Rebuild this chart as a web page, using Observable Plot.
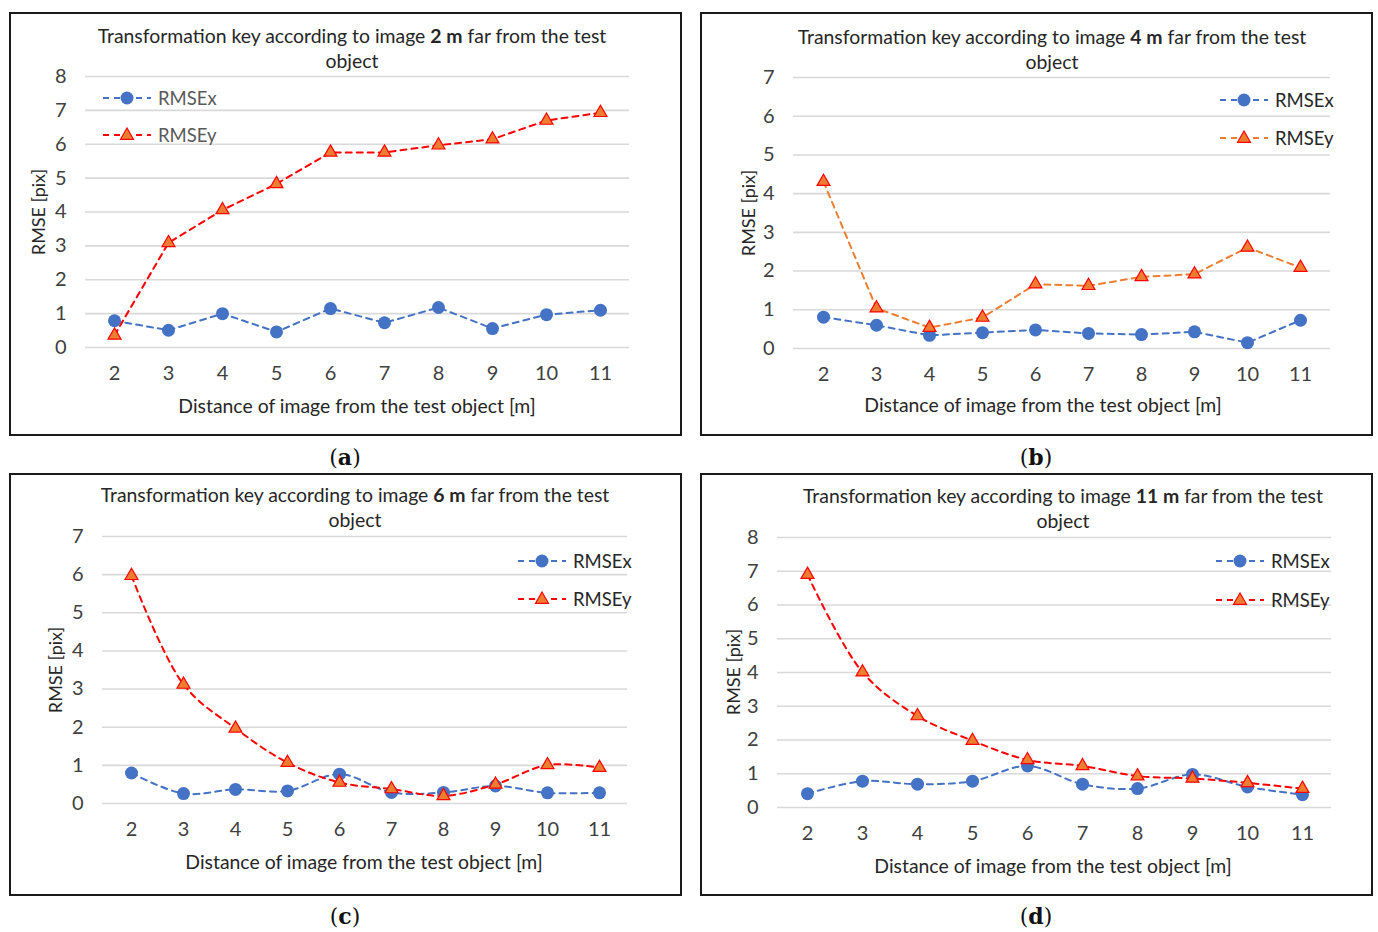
<!DOCTYPE html>
<html>
<head>
<meta charset="utf-8">
<script src="https://cdn.jsdelivr.net/npm/d3@7"></script>
<script src="https://cdn.jsdelivr.net/npm/@observablehq/plot@0.6"></script>
<style>
  html, body { margin: 0; padding: 0; background: #fff; }
  #root { position: relative; width: 1378px; height: 932px; overflow: hidden; font-family: Lato, "Open Sans", sans-serif; color: #262626; }
  .box { position: absolute; border: 2px solid #1a1a1a; box-sizing: border-box; }
  .abs { position: absolute; white-space: nowrap; }
  .title { font-size: 19.4px; line-height: 25px; text-align: center; transform: translateX(-50%); color: #262626; }
  .xtitle { font-size: 19.4px; transform: translate(-50%, -50%); color: #262626; }
  .ytitle { font-size: 18px; transform: translate(-50%, -50%) rotate(-90deg); color: #262626; }
  .cap { font-family: "DejaVu Serif", "Liberation Serif", serif; font-size: 22px; transform: translate(-50%, -50%); color: #111; }
  .leg { font-size: 18.5px; display: flex; align-items: center; transform: translateY(-50%); }
  .leg svg { margin-right: 7px; }
  svg.plot { position: absolute; }
</style>
</head>
<body>
<div id="root"></div>
<script>
// ---- data ----
const distances = [2, 3, 4, 5, 6, 7, 8, 9, 10, 11];
const rmseX_2m  = [0.79, 0.51, 1.00, 0.46, 1.15, 0.73, 1.18, 0.56, 0.97, 1.10];
const rmseY_2m  = [0.36, 3.09, 4.06, 4.83, 5.76, 5.76, 5.97, 6.15, 6.70, 6.93];
const rmseX_4m  = [0.81, 0.60, 0.34, 0.41, 0.48, 0.39, 0.36, 0.43, 0.15, 0.73];
const rmseY_4m  = [4.31, 1.04, 0.54, 0.80, 1.66, 1.62, 1.85, 1.92, 2.61, 2.09];
const rmseX_6m  = [0.80, 0.26, 0.37, 0.33, 0.77, 0.29, 0.29, 0.46, 0.28, 0.28];
const rmseY_6m  = [5.97, 3.12, 1.97, 1.07, 0.55, 0.38, 0.20, 0.50, 1.01, 0.94];
const rmseX_11m = [0.41, 0.78, 0.69, 0.78, 1.23, 0.69, 0.56, 0.98, 0.61, 0.38];
const rmseY_11m = [6.90, 4.01, 2.71, 1.98, 1.41, 1.23, 0.93, 0.86, 0.73, 0.56];
const yTicks8 = [0, 1, 2, 3, 4, 5, 6, 7, 8];
const yTicks7 = [0, 1, 2, 3, 4, 5, 6, 7];
const seriesNames = ["RMSEx", "RMSEy"];
const xTitle = "Distance of image from the test object [m]";
const yTitle = "RMSE [pix]";

// ---- styles ----
const blue = "#4472C4";
const red = "#FF0000";
const orange = "#ED7D31";

// ---- panel layout ----
const panels = [
  { key: "a", dist: "2 m", xs: rmseX_2m, ys: rmseY_2m, ticks: yTicks8, yLine: red, curve: "linear",
    box: [9, 12, 673, 424], frame: [85, 76, 629, 347], titleX: 352, titleY: 23,
    xt: [357, 405], yt: [38, 212], cap: [345, 457], leg: [103, 98, 135], legColor: "#595959" },
  { key: "b", dist: "4 m", xs: rmseX_4m, ys: rmseY_4m, ticks: yTicks7, yLine: orange, curve: "linear",
    box: [700, 12, 673, 424], frame: [793, 77, 1330, 348], titleX: 1052, titleY: 24,
    xt: [1043, 404], yt: [748, 213], cap: [1036, 457], leg: [1220, 100, 138], legColor: "#262626" },
  { key: "c", dist: "6 m", xs: rmseX_6m, ys: rmseY_6m, ticks: yTicks7, yLine: red, curve: "catmull-rom",
    box: [9, 473, 673, 423], frame: [102, 536, 627, 803], titleX: 355, titleY: 482,
    xt: [364, 861], yt: [55, 670], cap: [345, 916], leg: [518, 561, 599], legColor: "#262626" },
  { key: "d", dist: "11 m", xs: rmseX_11m, ys: rmseY_11m, ticks: yTicks8, yLine: red, curve: "catmull-rom",
    box: [700, 473, 673, 423], frame: [777, 537, 1331, 807], titleX: 1063, titleY: 483,
    xt: [1053, 865], yt: [733, 672], cap: [1036, 916], leg: [1216, 561, 600], legColor: "#262626" }
];

const root = document.getElementById("root");

function addDiv(cls, x, y, html) {
  const d = document.createElement("div");
  d.className = "abs " + cls;
  d.style.left = x + "px";
  d.style.top = y + "px";
  d.innerHTML = html;
  root.appendChild(d);
  return d;
}

function legendSymbol(kind, lineColor) {
  const w = 48, h = 16;
  let marker;
  if (kind === "circle") {
    marker = `<circle cx="${w/2}" cy="${h/2}" r="6.5" fill="${blue}"/>`;
  } else {
    marker = `<path d="M${w/2},${h/2-7} L${w/2+6.5},${h/2+4.3} L${w/2-6.5},${h/2+4.3} Z" fill="${orange}" stroke="${red}" stroke-width="1.2"/>`;
  }
  return `<svg width="${w}" height="${h}"><line x1="0" y1="${h/2}" x2="${w}" y2="${h/2}" stroke="${lineColor}" stroke-width="2" stroke-dasharray="6,5"/>${marker}</svg>`;
}

for (const p of panels) {
  const [bx, by, bw, bh] = p.box;
  const [fl, ft, fr, fb] = p.frame;
  const data = [];
  distances.forEach((d, i) => {
    data.push({ distance: String(d), value: p.xs[i], series: seriesNames[0] });
    data.push({ distance: String(d), value: p.ys[i], series: seriesNames[1] });
  });
  const dx = data.filter(d => d.series === "RMSEx");
  const dy = data.filter(d => d.series === "RMSEy");

  const chart = Plot.plot({
    width: bw,
    height: bh,
    marginLeft: fl - bx,
    marginRight: bx + bw - fr,
    marginTop: ft - by,
    marginBottom: by + bh - fb,
    style: { fontFamily: "Lato, 'Open Sans', sans-serif", fontSize: "20px", color: "#404040", background: "transparent" },
    x: { type: "point", domain: distances.map(String), padding: 0.5 },
    y: { domain: [0, p.ticks[p.ticks.length - 1]] },
    marks: [
      Plot.gridY(p.ticks, { stroke: "#d9d9d9", strokeOpacity: 1, strokeWidth: 1.6 }),
      Plot.axisY(p.ticks, { tickSize: 0, tickPadding: 19, label: null, fill: "#404040" }),
      Plot.axisX({ tickSize: 0, tickPadding: 18, label: null, fill: "#404040" }),
      Plot.line(dx, { x: "distance", y: "value", stroke: blue, strokeWidth: 2, strokeDasharray: "6,5", curve: p.curve }),
      Plot.line(dy, { x: "distance", y: "value", stroke: p.yLine, strokeWidth: 2, strokeDasharray: "6,5", curve: p.curve }),
      Plot.dot(dx, { x: "distance", y: "value", r: 6.5, fill: blue, stroke: "none", symbol: "circle" }),
      Plot.dot(dy, { x: "distance", y: "value", r: 4.8, fill: orange, stroke: red, strokeWidth: 1.2, symbol: "triangle" })
    ]
  });
  chart.classList.add("plot");
  chart.style.left = bx + "px";
  chart.style.top = by + "px";
  root.appendChild(chart);

  // frame box
  const box = document.createElement("div");
  box.className = "box";
  box.style.left = bx + "px"; box.style.top = by + "px";
  box.style.width = bw + "px"; box.style.height = bh + "px";
  root.appendChild(box);

  // title
  addDiv("title", p.titleX, p.titleY,
    `Transformation key according to image <b>${p.dist}</b> far from the test<br>object`);
  // axis titles
  addDiv("xtitle", p.xt[0], p.xt[1], xTitle);
  addDiv("ytitle", p.yt[0], p.yt[1], yTitle);
  // caption
  addDiv("cap", p.cap[0], p.cap[1], `(<b>${p.key}</b>)`);
  // legend
  const l1 = addDiv("leg", p.leg[0], p.leg[1], legendSymbol("circle", blue) + `<span>${seriesNames[0]}</span>`);
  const l2 = addDiv("leg", p.leg[0], p.leg[2], legendSymbol("triangle", p.yLine) + `<span>${seriesNames[1]}</span>`);
  l1.style.color = p.legColor; l2.style.color = p.legColor;
}
</script>
</body>
</html>
